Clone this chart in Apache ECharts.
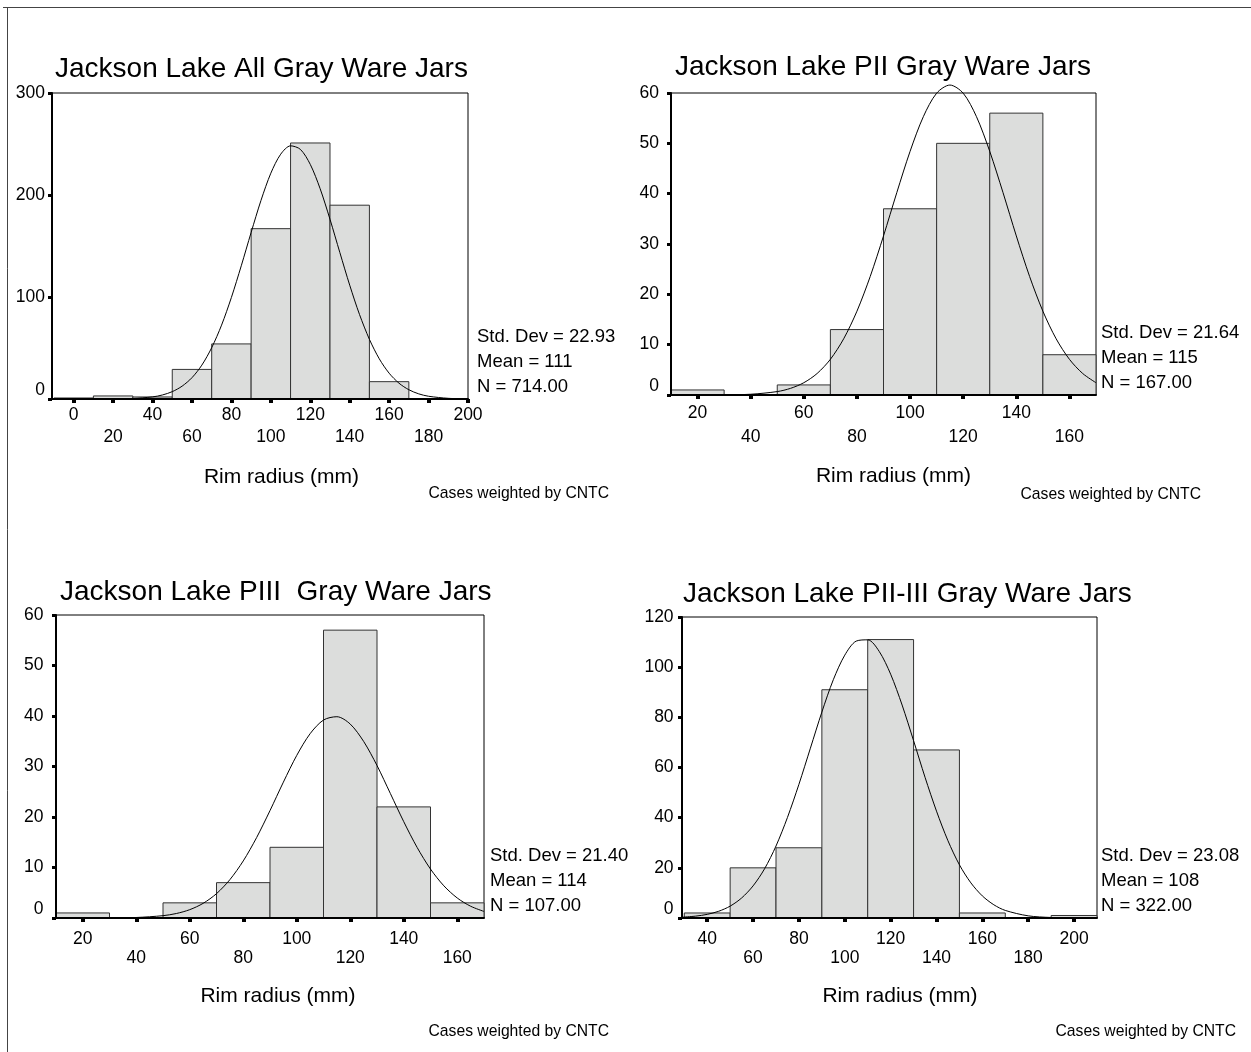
<!DOCTYPE html>
<html>
<head>
<meta charset="utf-8">
<script src="https://cdn.jsdelivr.net/npm/echarts@6/dist/echarts.min.js"></script>
<style>
html,body{margin:0;padding:0;background:#fff;}
#c{width:1251px;height:1052px;}
</style>
</head>
<body>
<div id="c"></div>
<script>
// ---------- DATA ----------
const titles = [
  'Jackson Lake All Gray Ware Jars',
  'Jackson Lake PII Gray Ware Jars',
  'Jackson Lake PIII  Gray Ware Jars',
  'Jackson Lake PII-III Gray Ware Jars'
];
const xAxisTitle = 'Rim radius (mm)';
const footnote = 'Cases weighted by CNTC';
const binWidth = 20;

const stdDevs = [22.93, 21.64, 21.40, 23.08];
const means = [111, 115, 114, 108];
const counts = [714, 167, 107, 322];

// Panel 1: All
const p1Centers = [0, 20, 40, 60, 80, 100, 120, 140, 160, 180];
const p1Counts  = [1, 3, 2, 29, 54, 167, 251, 190, 17, 0];
const p1XTicks = [0, 20, 40, 60, 80, 100, 120, 140, 160, 180, 200];
const p1YTicks = [0, 100, 200, 300];
const p1CurveX = [-10,0,10,20,30,40,45,50,55,60,65,70,75,80,85,90,95,100,105,110,115,120,125,130,135,140,145,150,155,160,165,170,175,180,190,200];
const p1CurveY = [0,0,0.02,0.09,0.48,2.06,3.94,7.21,12.6,20.9,33.2,50.3,72.4,99.6,130.6,163.3,194.7,221.4,240.0,248.2,244.7,230.0,206.2,176.2,143.6,111.6,82.7,58.5,39.4,25.3,15.5,9.07,5.05,2.69,0.66,0.13];

// Panel 2: PII
const p2Centers = [20, 40, 60, 80, 100, 120, 140, 160];
const p2Counts  = [1, 0, 2, 13, 37, 50, 56, 8];
const p2XTicks = [20, 40, 60, 80, 100, 120, 140, 160];
const p2YTicks = [0, 10, 20, 30, 40, 50, 60];
const p2CurveX = [10,20,30,40,50,55,60,65,70,75,80,85,90,95,100,105,110,115,120,125,130,135,140,145,150,155,160,165,170];
const p2CurveY = [0,0,0.03,0.15,0.68,1.32,2.44,4.27,7.09,11.16,16.65,23.55,31.6,40.2,48.4,55.3,59.96,61.58,59.96,55.3,48.4,40.2,31.6,23.55,16.65,11.16,7.09,4.27,2.44];

// Panel 3: PIII
const p3Centers = [20, 40, 60, 80, 100, 120, 140, 160];
const p3Counts  = [1, 0, 3, 7, 14, 57, 22, 3];
const p3XTicks = [20, 40, 60, 80, 100, 120, 140, 160];
const p3YTicks = [0, 10, 20, 30, 40, 50, 60];
const p3CurveX = [10,20,30,40,50,55,60,65,70,75,80,85,90,95,100,105,110,115,120,125,130,135,140,145,150,155,160,165,170];
const p3CurveY = [0,0,0.02,0.10,0.46,0.89,1.65,2.90,4.82,7.59,11.30,15.93,21.27,26.9,32.2,36.5,39.2,39.86,38.4,34.97,30.2,24.65,19.07,13.97,9.69,6.37,3.96,2.33,1.30];

// Panel 4: PII-III
const p4Centers = [40, 60, 80, 100, 120, 140, 160, 180, 200];
const p4Counts  = [2, 20, 28, 91, 111, 67, 2, 0, 1];
const p4XTicks = [40, 60, 80, 100, 120, 140, 160, 180, 200];
const p4YTicks = [0, 20, 40, 60, 80, 100, 120];
const p4CurveX = [29,35,40,45,50,55,60,65,70,75,80,85,90,95,100,105,110,115,120,125,130,135,140,145,150,155,160,165,170,180,190,200,210];
const p4CurveY = [0.32,0.75,1.45,2.68,4.73,7.97,12.8,19.6,28.7,40.1,53.3,67.7,82.1,95.0,104.8,110.4,110.9,106.3,97.2,84.9,70.7,56.1,42.6,30.8,21.2,14.0,8.8,5.27,3.02,0.86,0.20,0.04,0];

// ---------- LAYOUT ----------
const FONT = '"Liberation Sans", Arial, Helvetica, sans-serif';
const TICK_FS = 17.5;
const panels = [
  { grid:{left:52, top:93, width:416, height:306}, xMin:-11, xMax:200, yMax:300,
    centers:p1Centers, vals:p1Counts, xTicks:p1XTicks, yTicks:p1YTicks, cx:p1CurveX, cy:p1CurveY,
    xMargin:5.4, xLH:22, yMargin:7, title:{x:55, y:69}, stats:{x:477, y:336.7}, axTitle:{x:281.5, y:477}, foot:{x:609, y:493.3} },
  { grid:{left:671, top:93, width:425, height:302}, xMin:10, xMax:170, yMax:60,
    centers:p2Centers, vals:p2Counts, xTicks:p2XTicks, yTicks:p2YTicks, cx:p2CurveX, cy:p2CurveY,
    xMargin:6.6, xLH:23.4, yMargin:12, title:{x:675, y:67.5}, stats:{x:1101, y:333.3}, axTitle:{x:893.5, y:476}, foot:{x:1201, y:495} },
  { grid:{left:56, top:615, width:428, height:303}, xMin:10, xMax:170, yMax:60,
    centers:p3Centers, vals:p3Counts, xTicks:p3XTicks, yTicks:p3YTicks, cx:p3CurveX, cy:p3CurveY,
    xMargin:12.5, xLH:18.3, yMargin:12.5, title:{x:60, y:592}, stats:{x:490, y:855.8}, axTitle:{x:278, y:996}, foot:{x:609, y:1032} },
  { grid:{left:682, top:617, width:415, height:301}, xMin:29, xMax:210, yMax:120,
    centers:p4Centers, vals:p4Counts, xTicks:p4XTicks, yTicks:p4YTicks, cx:p4CurveX, cy:p4CurveY,
    xMargin:12.5, xLH:18.3, yMargin:8.4, title:{x:683, y:594}, stats:{x:1101, y:855.8}, axTitle:{x:900, y:996}, foot:{x:1236, y:1031.7} }
];

const grids = [], xAxes = [], yAxes = [], series = [], graphics = [];

function textEl(x, y, text, size, align) {
  return { type:'text', x:x, y:y, silent:true,
    style:{ text:text, font: size + 'px ' + FONT, fill:'#000',
            textAlign:align, textVerticalAlign:'middle', align:align, verticalAlign:'middle' } };
}

panels.forEach(function(p, i) {
  grids.push(Object.assign({ show:true, borderColor:'#000', borderWidth:1, backgroundColor:'rgba(0,0,0,0)' }, p.grid));
  const xt = p.xTicks;
  xAxes.push({
    type:'value', gridIndex:i, min:p.xMin, max:p.xMax, z:5,
    axisLine:{ show:true, onZero:false, lineStyle:{ color:'#000', width:2 } },
    axisTick:{ show:true, customValues:xt, length:4, lineStyle:{ color:'#000', width:4 } },
    axisLabel:{ show:true, customValues:xt, margin:p.xMargin, lineHeight:p.xLH, fontSize:TICK_FS, color:'#000', fontFamily:FONT,
      formatter:function(v){ const k = xt.indexOf(v); return (k % 2 === 1) ? '\n' + v : '' + v; } },
    splitLine:{ show:false }
  });
  yAxes.push({
    type:'value', gridIndex:i, min:0, max:p.yMax, z:5,
    axisLine:{ show:true, onZero:false, lineStyle:{ color:'#000', width:2 } },
    axisTick:{ show:true, customValues:p.yTicks, length:4, lineStyle:{ color:'#000', width:3 } },
    axisLabel:{ show:true, customValues:p.yTicks, margin:p.yMargin, lineHeight:18, fontSize:TICK_FS, color:'#000', fontFamily:FONT,
      formatter:function(v){ return v === 0 ? '0\n' : '' + v; } },
    splitLine:{ show:false }
  });
  series.push({
    type:'custom', xAxisIndex:i, yAxisIndex:i, z:2, silent:true,
    data: p.centers.map(function(c, k){ return [c, p.vals[k]]; }),
    encode:{ x:0, y:1 },
    renderItem:function(params, api) {
      const c = api.value(0), v = api.value(1);
      if (!v) return null;
      const a = api.coord([c - binWidth / 2, v]);
      const b = api.coord([c + binWidth / 2, 0]);
      return { type:'rect', shape:{ x:a[0], y:a[1], width:b[0] - a[0], height:b[1] - a[1] },
               style:{ fill:'#dcdddc', stroke:'#333333', lineWidth:1 } };
    }
  });
  series.push({
    type:'line', xAxisIndex:i, yAxisIndex:i, z:3, silent:true, clip:false,
    data: p.cx.map(function(x, k){ return [x, p.cy[k]]; }),
    smooth:0.3, symbol:'none', lineStyle:{ color:'#000', width:1 }
  });
  graphics.push(textEl(p.title.x, p.title.y, titles[i], 28, 'left'));
  graphics.push(textEl(p.stats.x, p.stats.y, 'Std. Dev = ' + stdDevs[i].toFixed(2), 18.5, 'left'));
  graphics.push(textEl(p.stats.x, p.stats.y + 25, 'Mean = ' + means[i], 18.5, 'left'));
  graphics.push(textEl(p.stats.x, p.stats.y + 50, 'N = ' + counts[i].toFixed(2), 18.5, 'left'));
  graphics.push(textEl(p.axTitle.x, p.axTitle.y, xAxisTitle, 21, 'center'));
  graphics.push(textEl(p.foot.x, p.foot.y, footnote, 15.7, 'right'));
});

// outer frame (top and left edges visible)
graphics.push({ type:'line', silent:true, shape:{ x1:3, y1:7.5, x2:1251, y2:7.5 }, style:{ stroke:'#444', lineWidth:1 } });
graphics.push({ type:'line', silent:true, shape:{ x1:7.5, y1:7, x2:7.5, y2:1052 }, style:{ stroke:'#444', lineWidth:1 } });

const chart = echarts.init(document.getElementById('c'), null, { renderer:'canvas' });
chart.setOption({
  animation:false,
  backgroundColor:'#fff',
  grid:grids, xAxis:xAxes, yAxis:yAxes, series:series,
  graphic:{ elements:graphics }
});
</script>
</body>
</html>
